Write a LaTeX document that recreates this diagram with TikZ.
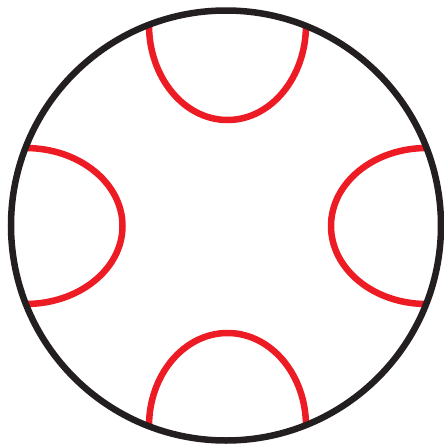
\documentclass[tikz,border=0pt]{standalone}
\definecolor{rimblack}{RGB}{35, 31, 32}
\definecolor{lobered}{RGB}{237, 28, 36}
\usepackage{tikz}

\begin{document}
\begin{tikzpicture}[x=1pt, y=-1pt,
            rim/.style={draw=rimblack, line width=6.5pt},
            lobe/.style={draw=lobered, line width=6.5pt}]
          \useasboundingbox (0,0) rectangle (444,445);
          \coordinate (c) at (226,225.5);
          % red lobes, ends tucked under the rim
          \draw[lobe] (149,25) arc[start angle=180, end angle=360, x radius=78.5, y radius=-95];
          \draw[lobe] (149,426) arc[start angle=180, end angle=0, x radius=78.5, y radius=-93];
          \draw[lobe] (25.5,148) arc[start angle=90, end angle=-90, x radius=97, y radius=-78];
          \draw[lobe] (426.5,148) arc[start angle=90, end angle=270, x radius=95.5, y radius=-78];
          % outer circle
          \draw[rim] (c) circle[radius=215];
        \end{tikzpicture}
\end{document}
